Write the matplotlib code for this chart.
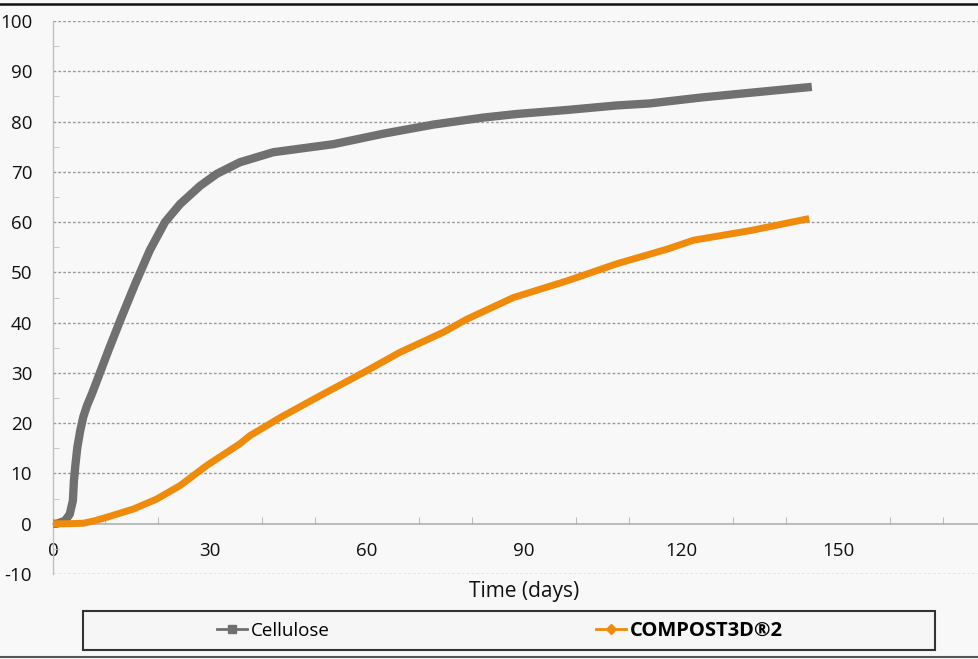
import matplotlib.pyplot as plt
from matplotlib.lines import Line2D
from matplotlib.patches import Rectangle
from matplotlib.ticker import MultipleLocator, FixedLocator

plt.rcParams['font.family'] = ['Open Sans', 'DejaVu Sans']
plt.rcParams['axes.unicode_minus'] = False

# data
cell_days = [0, 0.7, 2.3, 3.2, 3.8, 4.0, 4.3, 4.65, 5.2, 5.8, 6.5, 7.5, 10.6, 13.1,
             15.7, 18.5, 21.4, 24.3, 28.1, 31.3, 35.7, 42.1, 53.6, 63.2, 72.7, 82.3,
             88.6, 98.2, 107.7, 114, 124, 135, 145]
cell_vals = [0, 0, 0.6, 1.9, 4.6, 8.6, 11.9, 15.2, 18.5, 21.3, 23.5, 26, 34.5, 41.1,
             47.7, 54.4, 60, 63.6, 67.2, 69.6, 71.9, 73.9, 75.5, 77.6, 79.4, 80.8,
             81.5, 82.3, 83.2, 83.6, 84.8, 85.9, 86.9]

comp_days = [0, 3, 5.8, 8, 10.3, 15.3, 19.8, 24.3, 29.4, 35.7, 37.6, 43.4, 50.4, 59.9,
             66.3, 74.6, 79.1, 88, 98.2, 107.7, 117.3, 122.4, 133.2, 144.5]
comp_vals = [0, 0, 0.1, 0.6, 1.3, 2.9, 4.9, 7.6, 11.6, 15.9, 17.5, 21.1, 25.1, 30.4,
             34.1, 38.1, 40.7, 45.0, 48.3, 51.7, 54.6, 56.4, 58.3, 60.7]

series_names = ['Cellulose', 'COMPOST3D\u00ae2']
x_label = 'Time (days)'
x_labels = [0, 30, 60, 90, 120, 150]

grey = '#707070'
orange = '#f08a0a'
bg = '#f8f8f8'

W, H = 979, 659
fig = plt.figure(figsize=(W / 100, H / 100), dpi=100, facecolor=bg)
ax = fig.add_axes([53 / W, 1 - 574 / H, (995 - 53) / W, (574 - 21) / H])
ax.set_facecolor(bg)

ax.plot(cell_days, cell_vals, color=grey, lw=6, solid_capstyle='butt', solid_joinstyle='round', zorder=3)
ax.plot(comp_days, comp_vals, color=orange, lw=5, solid_capstyle='butt', solid_joinstyle='round', zorder=4)

ax.set_xlim(0, 180)
ax.set_ylim(-10, 100)
ax.xaxis.set_major_locator(FixedLocator(x_labels))
ax.xaxis.set_minor_locator(MultipleLocator(10))
ax.yaxis.set_major_locator(MultipleLocator(10))
ax.yaxis.set_minor_locator(MultipleLocator(5))

for v in range(-10, 101, 10):
    if v != 0:
        ax.axhline(v, color='#9a9a9a', lw=1, ls=(0, (2, 1.5)), zorder=1)

for s in ['top', 'right']:
    ax.spines[s].set_visible(False)
ax.spines['bottom'].set_position(('data', 0))
ax.spines['bottom'].set_color('#b0b0b0')
ax.spines['bottom'].set_linewidth(1.2)
ax.spines['left'].set_color('#c0c0c0')
ax.spines['left'].set_linewidth(1)

ax.tick_params(axis='x', which='both', direction='in', length=5, color='#b0b0b0',
               labelsize=13.5, pad=13, labelcolor='#111111')
ax.tick_params(axis='x', which='major', length=0)
ax.tick_params(axis='y', which='both', direction='in', length=4, color='#c0c0c0',
               labelsize=13.5, pad=15, labelcolor='#111111')
ax.tick_params(axis='y', which='major', length=0)

fig.text(524 / W, 1 - 591 / H, x_label, ha='center', va='center', fontsize=15, color='#111111')

# frame lines at the top and bottom of the picture
fig.add_artist(Line2D([0, 1], [1 - 3.5 / H, 1 - 3.5 / H], color='#111111', lw=1.8))
fig.add_artist(Line2D([0, 1], [1 - 657 / H, 1 - 657 / H], color='#555555', lw=1.5))

# legend box
fig.add_artist(Rectangle((83 / W, 1 - 650 / H), (935 - 83) / W, (650 - 611) / H,
                         facecolor='#f6f6f6', edgecolor='#333333', lw=1.5))
handles = [Line2D([], [], color=grey, lw=2, marker='s', ms=6),
           Line2D([], [], color=orange, lw=2, marker='D', ms=5)]
leg = fig.legend(handles, series_names, ncol=2, mode='expand', frameon=False,
                 bbox_to_anchor=(210 / W, 1 - 648 / H, (790 - 210) / W, 34 / H),
                 loc='center', fontsize=13.5, handlelength=1.6, handletextpad=0.2,
                 borderaxespad=0)
leg.get_texts()[1].set_fontweight('bold')
leg.get_texts()[1].set_fontsize(14.5)

fig.savefig('out.png', dpi=100, facecolor=bg)
